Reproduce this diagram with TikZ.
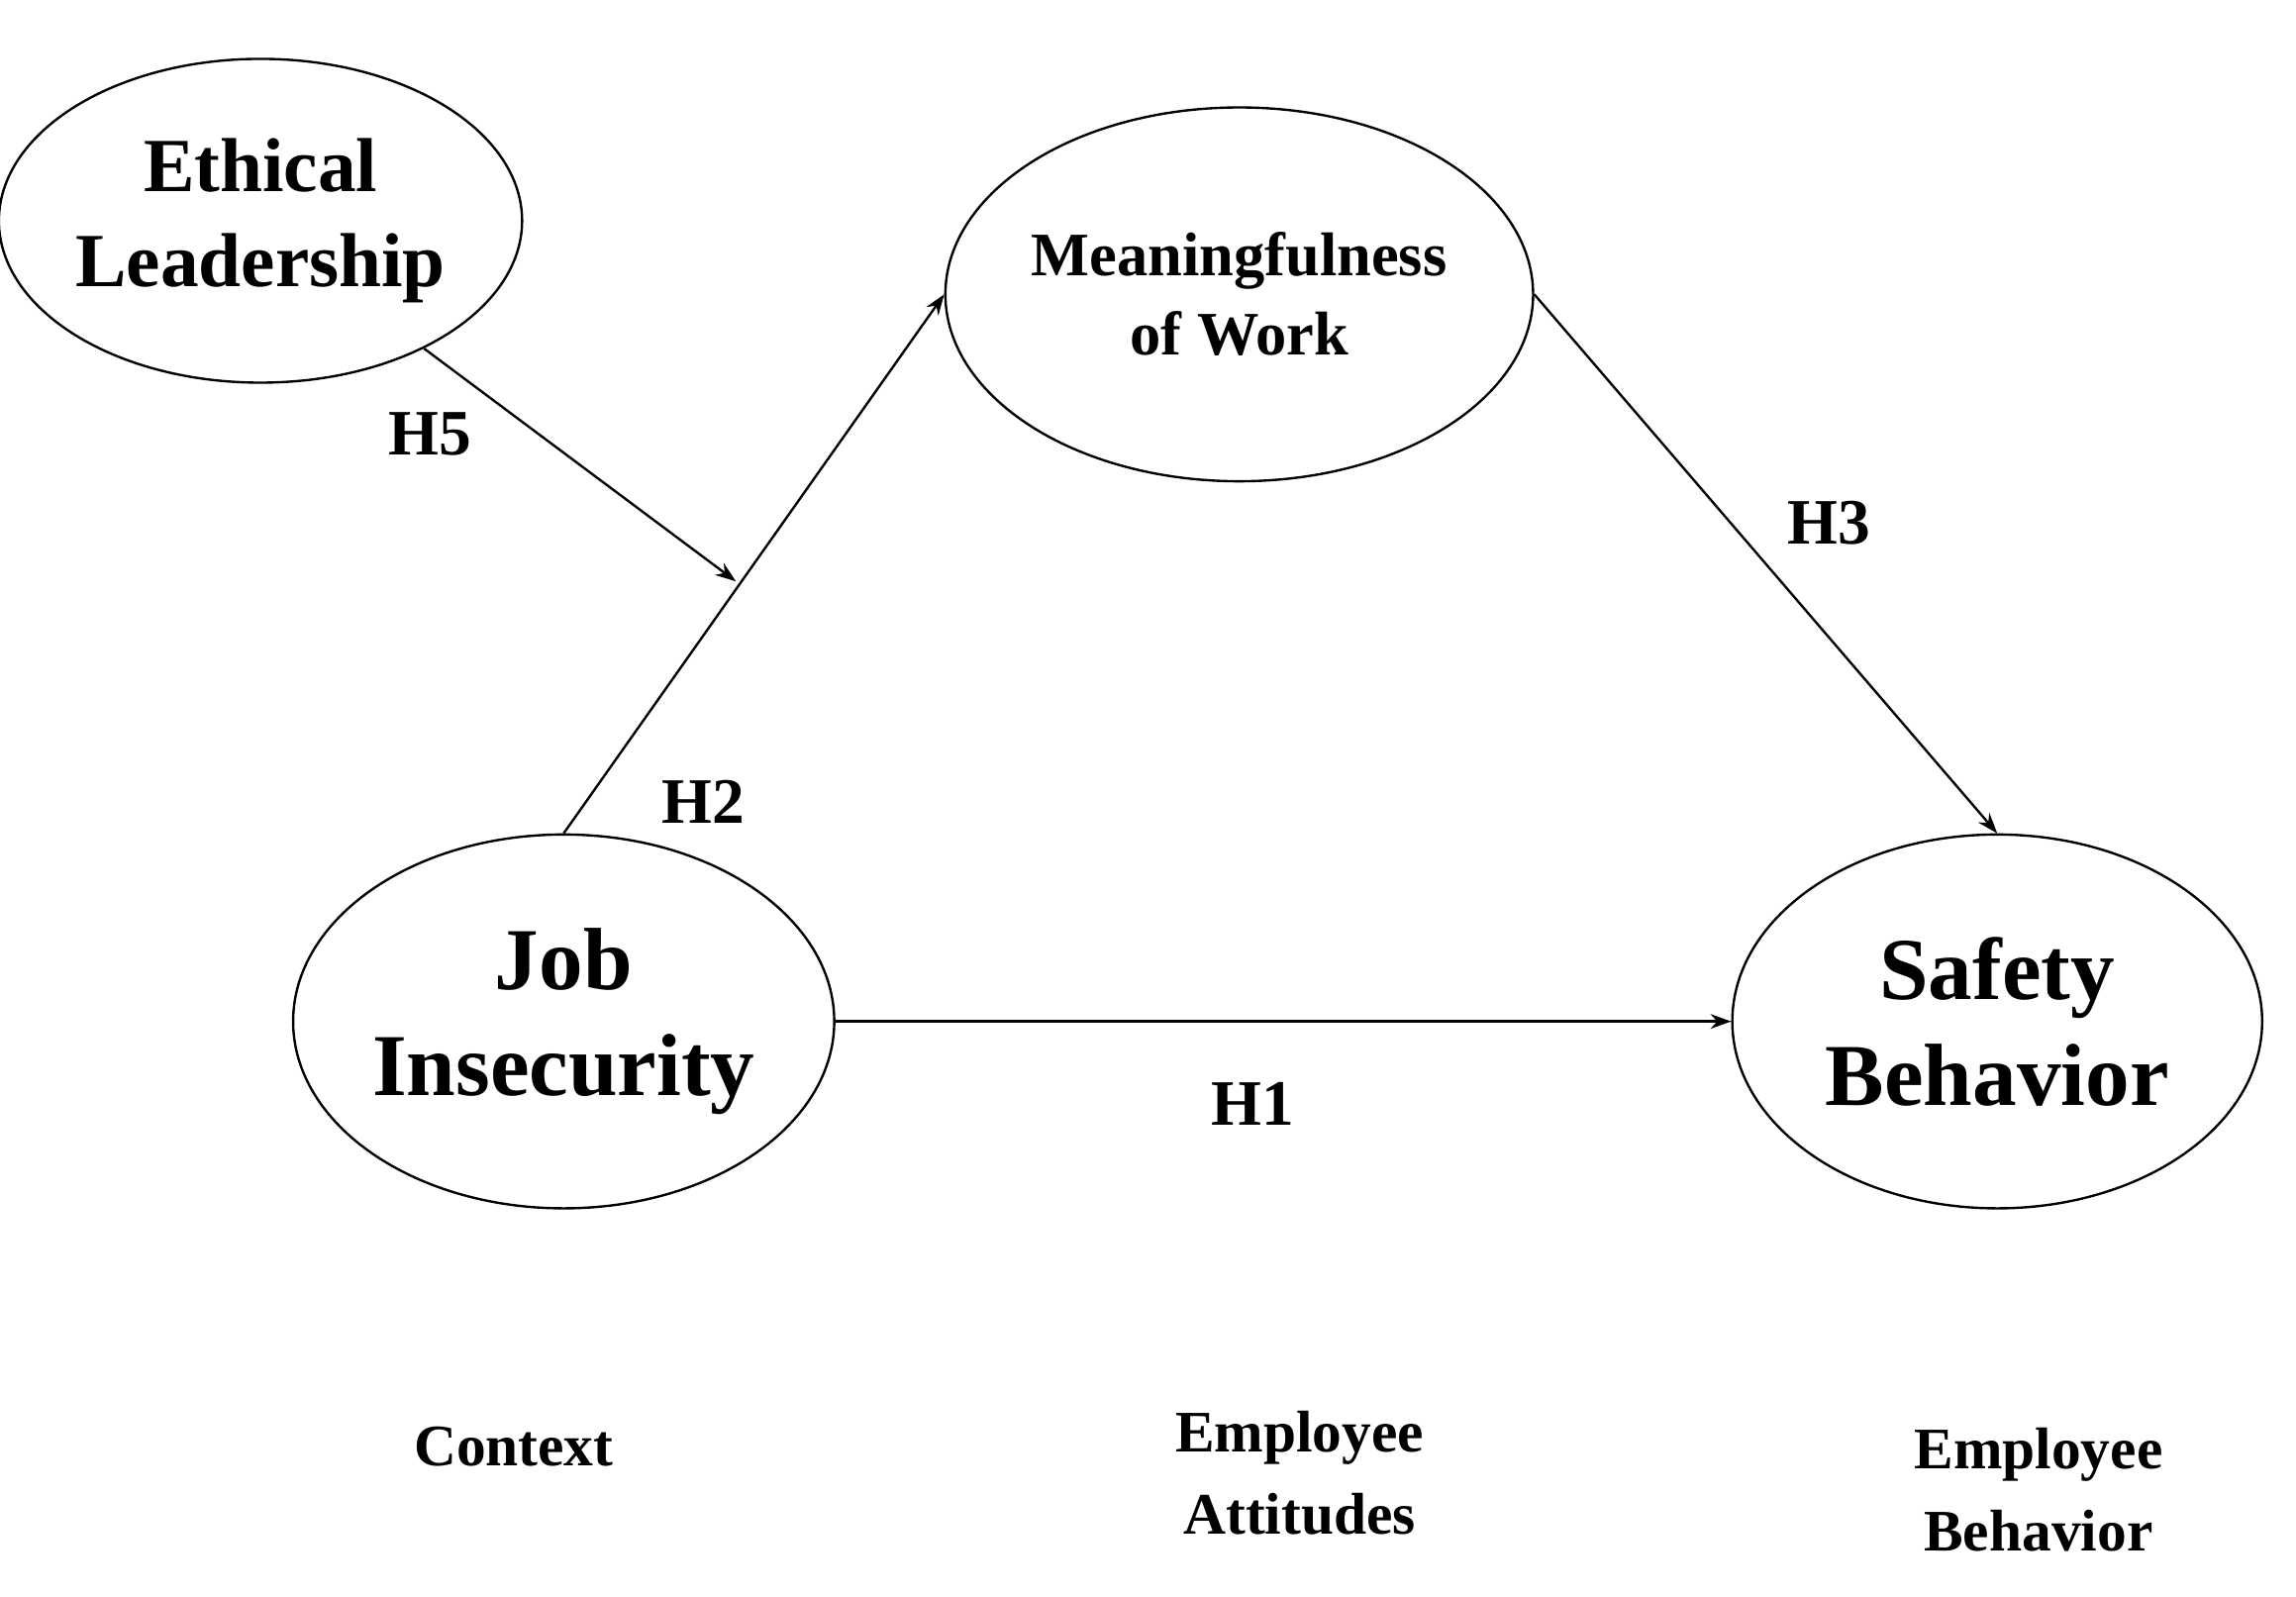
\documentclass[tikz,border=0pt]{standalone}
\usepackage{fontspec}
\setmainfont{Liberation Serif}
\usetikzlibrary{shapes.geometric,arrows.meta}
\begin{document}
\begin{tikzpicture}[x=0.5pt,y=-0.5pt,
  ell/.style={draw,ellipse,line width=0.8pt,inner sep=0pt,align=center,font=\bfseries},
  arr/.style={line width=0.8pt,-{Stealth[length=7pt,width=5pt]}},
  lab/.style={font=\bfseries\fontsize{22}{26}\selectfont,align=center}]
\useasboundingbox (0,0) rectangle (1560,1085);
\node[ell,minimum width=310pt*0.5,minimum height=220pt*0.5,font=\bfseries\fontsize{26}{32}\selectfont] (el) at (177,150) {Ethical\\Leadership};
\node[ell,minimum width=340pt*0.5,minimum height=254pt*0.5,font=\bfseries\fontsize{21}{27}\selectfont] (mw) at (842,200) {Meaningfulness\\of Work};
\node[ell,minimum width=340pt*0.5,minimum height=254pt*0.5,font=\bfseries\fontsize{30}{36}\selectfont] (ji) at (383,694) {Job\\Insecurity};
\node[ell,minimum width=360pt*0.5,minimum height=254pt*0.5,font=\bfseries\fontsize{30}{36}\selectfont] (sb) at (1357,694) {Safety\\Behavior};
\coordinate (mod) at (500,395);
\draw[arr] (ji.north) -- (mw.west);
\draw[arr] (el.-38) -- (mod);
\draw[arr] (mw.east) -- (sb.north);
\draw[arr] (ji.east) -- (sb.west);
\node[lab] (h5) at (292,295) {H5};
\node[lab] (h2) at (478,545) {H2};
\node[lab] (h3) at (1243,355) {H3};
\node[lab] (h1) at (851,750) {H1};
\node[lab,font=\bfseries\fontsize{20}{28}\selectfont] (c1) at (349,983) {Context};
\node[lab,font=\bfseries\fontsize{20}{28}\selectfont] (c2) at (883,1001) {Employee\\Attitudes};
\node[lab,font=\bfseries\fontsize{20}{28}\selectfont] (c3) at (1385,1012) {Employee\\Behavior};
\end{tikzpicture}
\end{document}
